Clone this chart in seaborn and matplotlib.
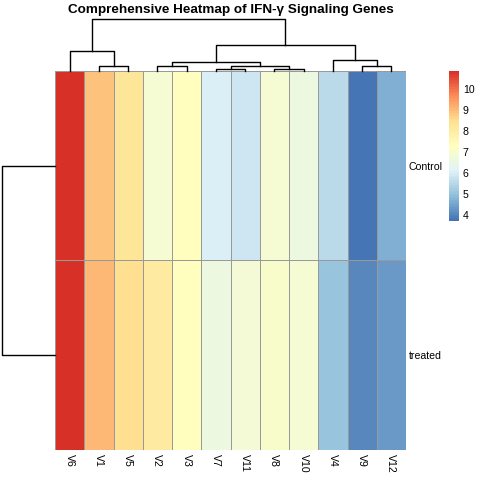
import numpy as np
import pandas as pd
import matplotlib
matplotlib.use('Agg')
import matplotlib.pyplot as plt
import seaborn as sns
from matplotlib.colors import LinearSegmentedColormap

# column order as displayed (after clustering)
genes = ['V6', 'V1', 'V5', 'V2', 'V3', 'V7', 'V11', 'V8', 'V10', 'V4', 'V9', 'V12']
groups = ['Control', 'treated']
control_vals = [10.8, 8.87, 8.23, 6.9, 7.3, 6.0, 5.8, 6.9, 6.6, 5.5, 3.7, 4.7]
treated_vals = [10.85, 9.0, 8.46, 8.04, 7.3, 6.6, 6.8, 7.0, 6.9, 5.0, 4.0, 4.3]

# linkage in display order: (left, right, height); ids >= n are earlier merges
col_merges = [
    (1, 2, 0.9), (0, 12, 3.79), (3, 4, 0.9), (5, 6, 0.33), (7, 8, 0.33),
    (15, 16, 0.9), (14, 17, 1.73), (10, 11, 0.9), (9, 19, 2.06),
    (18, 20, 5.0), (13, 21, 10.0),
]
row_merges = [(0, 1, 10.0)]

palette = ['#4575B4', '#91BFDB', '#E0F3F8', '#FFFFBF', '#FEE090', '#FC8D59', '#D73027']
cmap = LinearSegmentedColormap.from_list('rdylbu_r', palette, N=100)

plt.rcParams['font.family'] = ['Liberation Sans', 'DejaVu Sans']

df = pd.DataFrame([control_vals, treated_vals], index=groups, columns=genes)


def draw_dendro(ax, merges, n, orient='top'):
    pos = {i: i + 0.5 for i in range(n)}
    hgt = {i: 0.0 for i in range(n)}
    for k, (a, b, h) in enumerate(merges):
        xs = [pos[a], pos[a], pos[b], pos[b]]
        ys = [hgt[a], h, h, hgt[b]]
        if orient == 'top':
            ax.plot(xs, ys, color='black', lw=1, clip_on=False)
        else:
            ax.plot(ys, xs, color='black', lw=1, clip_on=False)
        pos[n + k] = (pos[a] + pos[b]) / 2
        hgt[n + k] = h
    ax.axis('off')


fig = plt.figure(figsize=(4.8, 4.8), dpi=100)
ax_hm = fig.add_axes([0.1146, 0.0625, 0.7313, 0.7896])
ax_cb = fig.add_axes([0.935, 0.5396, 0.0208, 0.3125])
ax_col = fig.add_axes([0.1146, 0.852, 0.7313, 0.108])
ax_row = fig.add_axes([0.004, 0.0625, 0.110, 0.7896])

sns.heatmap(df, ax=ax_hm, cmap=cmap, cbar_ax=ax_cb,
            linewidths=0.6, linecolor='#999999')

ax_hm.yaxis.tick_right()
ax_hm.set_yticklabels(groups, rotation=0, ha='left', fontsize=7.6)
ax_hm.set_xticklabels(genes, rotation=270, ha='center', va='top', fontsize=7.6)
ax_hm.tick_params(axis='both', length=0)
ax_hm.tick_params(axis='x', pad=3)
ax_hm.tick_params(axis='y', pad=2)
ax_hm.set_xlabel('')
ax_hm.set_ylabel('')

cbar = ax_hm.collections[0].colorbar
cbar.outline.set_visible(False)
cbar.set_ticks([4, 5, 6, 7, 8, 9, 10])
ax_cb.tick_params(length=0, labelsize=7.6, pad=3)

draw_dendro(ax_col, col_merges, len(genes), orient='top')
ax_col.set_xlim(0, len(genes))
ax_col.set_ylim(0, 10)

draw_dendro(ax_row, row_merges, len(groups), orient='left')
ax_row.set_xlim(10, 0)
ax_row.set_ylim(len(groups), 0)

fig.text(0.4802, 0.979, 'Comprehensive Heatmap of IFN-γ Signaling Genes',
         ha='center', va='center', fontsize=9.7, fontweight='bold')

fig.savefig('out.png', dpi=100)
